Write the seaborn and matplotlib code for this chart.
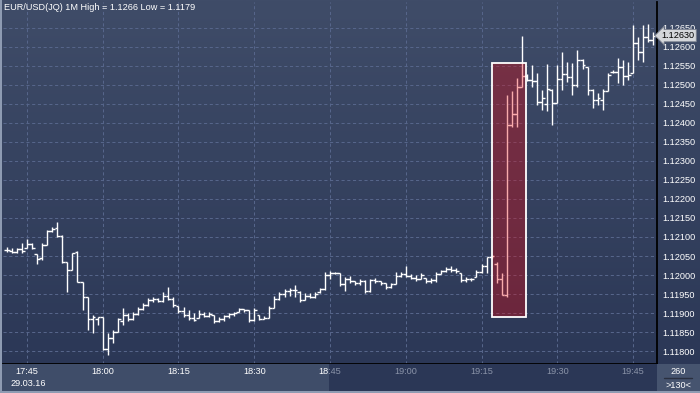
import numpy as np
import pandas as pd
import matplotlib
matplotlib.use("Agg")
import matplotlib.pyplot as plt
import seaborn as sns
from matplotlib.patches import Rectangle
from matplotlib.colors import LinearSegmentedColormap
from matplotlib.transforms import Bbox, blended_transform_factory

# ---------------- data (EUR/USD 1-minute bars) ----------------
start_time = "2016-03-29 17:41"
opens = [1.12066, 1.12063, 1.12060, 1.12068, 1.12071, 1.12082, 1.12054, 1.12045, 1.12079, 1.12115,
         1.12123, 1.12103, 1.12034, 1.12013, 1.12060, 1.11982, 1.11942, 1.11884, 1.11884, 1.11889,
         1.11805, 1.11834, 1.11850, 1.11880, 1.11895, 1.11884, 1.11897, 1.11910, 1.11921, 1.11934,
         1.11937, 1.11931, 1.11945, 1.11937, 1.11918, 1.11905, 1.11895, 1.11887, 1.11887, 1.11897,
         1.11892, 1.11895, 1.11879, 1.11884, 1.11892, 1.11897, 1.11903, 1.11910, 1.11908, 1.11882,
         1.11895, 1.11884, 1.11887, 1.11913, 1.11937, 1.11950, 1.11958, 1.11960, 1.11955, 1.11934,
         1.11945, 1.11942, 1.11955, 1.11963, 1.12000, 1.12005, 1.12005, 1.11976, 1.11989, 1.11984,
         1.11979, 1.11984, 1.11958, 1.11987, 1.11984, 1.11979, 1.11968, 1.11976, 1.11997, 1.12003,
         1.11997, 1.11992, 1.11989, 1.11992, 1.11984, 1.11987, 1.12003, 1.12010, 1.12016, 1.12013,
         1.12005, 1.11987, 1.11989, 1.11995, 1.12008, 1.12024, 1.12047, 1.12029, 1.11989, 1.11947,
         1.12394, 1.12423, 1.12494, 1.12523, 1.12513, 1.12510, 1.12455, 1.12450, 1.12486, 1.12452,
         1.12515, 1.12530, 1.12520, 1.12500, 1.12565, 1.12547, 1.12486, 1.12460, 1.12460, 1.12484,
         1.12534, 1.12534, 1.12547, 1.12523, 1.12531, 1.12610, 1.12586, 1.12626, 1.12618]
highs = [1.12073, 1.12071, 1.12072, 1.12084, 1.12095, 1.12084, 1.12055, 1.12084, 1.12118, 1.12126,
         1.12139, 1.12105, 1.12034, 1.12058, 1.12063, 1.11982, 1.11942, 1.11895, 1.11889, 1.11889,
         1.11847, 1.11855, 1.11887, 1.11913, 1.11900, 1.11903, 1.11916, 1.11926, 1.11939, 1.11942,
         1.11940, 1.11955, 1.11968, 1.11942, 1.11918, 1.11916, 1.11908, 1.11900, 1.11908, 1.11903,
         1.11903, 1.11895, 1.11889, 1.11895, 1.11900, 1.11903, 1.11913, 1.11910, 1.11908, 1.11913,
         1.11895, 1.11892, 1.11918, 1.11945, 1.11955, 1.11963, 1.11966, 1.11974, 1.11958, 1.11953,
         1.11953, 1.11955, 1.11966, 1.12008, 1.12010, 1.12008, 1.12005, 1.11995, 1.11997, 1.11984,
         1.11989, 1.11987, 1.11989, 1.11992, 1.11984, 1.11979, 1.11979, 1.12008, 1.12008, 1.12024,
         1.12003, 1.12000, 1.12005, 1.11992, 1.11992, 1.12008, 1.12013, 1.12021, 1.12024, 1.12018,
         1.12005, 1.11995, 1.11992, 1.12013, 1.12029, 1.12047, 1.12053, 1.12034, 1.12005, 1.12473,
         1.12484, 1.12518, 1.12628, 1.12530, 1.12552, 1.12531, 1.12486, 1.12555, 1.12489, 1.12552,
         1.12586, 1.12560, 1.12557, 1.12592, 1.12568, 1.12547, 1.12489, 1.12478, 1.12489, 1.12531,
         1.12539, 1.12571, 1.12565, 1.12560, 1.12657, 1.12626, 1.12657, 1.12660, 1.12639]
lows = [1.12060, 1.12058, 1.12058, 1.12058, 1.12071, 1.12068, 1.12029, 1.12039, 1.12079, 1.12113,
        1.12100, 1.12031, 1.11955, 1.12013, 1.11982, 1.11908, 1.11855, 1.11847, 1.11868, 1.11803,
        1.11790, 1.11821, 1.11850, 1.11868, 1.11879, 1.11882, 1.11895, 1.11908, 1.11918, 1.11929,
        1.11929, 1.11929, 1.11934, 1.11916, 1.11900, 1.11889, 1.11882, 1.11879, 1.11887, 1.11889,
        1.11889, 1.11874, 1.11876, 1.11879, 1.11887, 1.11892, 1.11903, 1.11903, 1.11876, 1.11879,
        1.11882, 1.11884, 1.11887, 1.11913, 1.11934, 1.11942, 1.11945, 1.11942, 1.11929, 1.11934,
        1.11939, 1.11939, 1.11953, 1.11960, 1.11989, 1.12003, 1.11971, 1.11958, 1.11979, 1.11974,
        1.11974, 1.11953, 1.11955, 1.11979, 1.11974, 1.11963, 1.11966, 1.11976, 1.11995, 1.11995,
        1.11989, 1.11984, 1.11989, 1.11979, 1.11979, 1.11982, 1.12003, 1.12008, 1.12008, 1.12005,
        1.11982, 1.11982, 1.11984, 1.11995, 1.12005, 1.12005, 1.12045, 1.11979, 1.11947, 1.11942,
        1.12389, 1.12389, 1.12494, 1.12510, 1.12494, 1.12447, 1.12434, 1.12431, 1.12394, 1.12452,
        1.12486, 1.12507, 1.12473, 1.12494, 1.12541, 1.12473, 1.12439, 1.12447, 1.12434, 1.12484,
        1.12531, 1.12505, 1.12500, 1.12513, 1.12531, 1.12565, 1.12560, 1.12613, 1.12605]
closes = [1.12066, 1.12060, 1.12068, 1.12062, 1.12082, 1.12072, 1.12042, 1.12079, 1.12115, 1.12120,
          1.12103, 1.12034, 1.12013, 1.12058, 1.11982, 1.11942, 1.11884, 1.11889, 1.11889, 1.11805,
          1.11834, 1.11850, 1.11884, 1.11895, 1.11884, 1.11897, 1.11910, 1.11921, 1.11934, 1.11937,
          1.11931, 1.11945, 1.11937, 1.11921, 1.11905, 1.11895, 1.11887, 1.11882, 1.11897, 1.11892,
          1.11897, 1.11879, 1.11884, 1.11892, 1.11897, 1.11900, 1.11910, 1.11908, 1.11882, 1.11908,
          1.11884, 1.11887, 1.11913, 1.11937, 1.11950, 1.11958, 1.11960, 1.11960, 1.11934, 1.11945,
          1.11942, 1.11950, 1.11963, 1.12000, 1.12005, 1.12005, 1.11976, 1.11989, 1.11984, 1.11979,
          1.11984, 1.11958, 1.11987, 1.11984, 1.11979, 1.11968, 1.11976, 1.11997, 1.12003, 1.11997,
          1.11992, 1.11989, 1.12000, 1.11984, 1.11987, 1.12003, 1.12010, 1.12016, 1.12013, 1.12010,
          1.11987, 1.11989, 1.11989, 1.12008, 1.12024, 1.12047, 1.12050, 1.11989, 1.11947, 1.12394,
          1.12423, 1.12494, 1.12523, 1.12513, 1.12510, 1.12455, 1.12465, 1.12489, 1.12452, 1.12515,
          1.12530, 1.12520, 1.12500, 1.12565, 1.12552, 1.12486, 1.12460, 1.12465, 1.12484, 1.12526,
          1.12534, 1.12547, 1.12523, 1.12526, 1.12610, 1.12586, 1.12626, 1.12618, 1.12630]

time_labels = ["17:45", "18:00", "18:15", "18:30", "18:45", "19:00", "19:15", "19:30", "19:45"]
date_label = "29.03.16"
price_ticks = [1.11800, 1.11850, 1.11900, 1.11950, 1.12000, 1.12050, 1.12100, 1.12150, 1.12200,
               1.12250, 1.12300, 1.12350, 1.12400, 1.12450, 1.12500, 1.12550, 1.12600, 1.12650]
title = "EUR/USD(JQ) 1M High = 1.1266 Low = 1.1179"
last_price = 1.12630
highlight_times = ["2016-03-29 19:17", "2016-03-29 19:24"]
highlight_prices = [1.11890, 1.12558]
counter_top, counter_bottom = "260", ">130<"

# ---------------- style ----------------
sns.set_theme(style="dark")
plt.rcParams['font.family'] = ['Liberation Sans', 'DejaVu Sans']
FS = 6.6

W, H = 700, 393
fig = plt.figure(figsize=(W / 100, H / 100), dpi=100)


def fx(px):
    return px / W


def fy(py):
    return 1 - py / H


# gradient background over the whole figure
bg = fig.add_axes([0, 0, 1, 1])
bg.set_axis_off()
cmap = LinearSegmentedColormap.from_list("bgrad", ["#3f4c68", "#2a3655"])
bg.imshow(np.linspace(0, 1, 256)[:, None], aspect="auto", cmap=cmap, extent=[0, 1, 0, 1])
bg.set_xlim(0, 1)
bg.set_ylim(0, 1)

# bottom strip (time axis)
fig.patches.append(Rectangle((0, fy(391)), fx(329), fy(364) - fy(391), transform=fig.transFigure,
                             facecolor="#3f4d69", edgecolor="none", zorder=1))
fig.patches.append(Rectangle((fx(329), fy(391)), fx(657) - fx(329), fy(364) - fy(391),
                             transform=fig.transFigure, facecolor="#2b3756", edgecolor="none", zorder=1))
fig.patches.append(Rectangle((fx(657), fy(391)), fx(700) - fx(657), fy(364) - fy(391),
                             transform=fig.transFigure, facecolor="#46546f", edgecolor="none", zorder=1))
# light frame lines
fig.patches.append(Rectangle((0, 0), 1, fy(391), transform=fig.transFigure,
                             facecolor="#8e9bb2", edgecolor="none", zorder=2))
fig.patches.append(Rectangle((0, 0), fx(2), 1, transform=fig.transFigure,
                             facecolor="#8e9bb2", edgecolor="none", zorder=2))

# main price axes
ax = fig.add_axes([fx(3), fy(364), fx(657) - fx(3), fy(2) - fy(364)])
ax.patch.set_alpha(0)

times = pd.date_range(start_time, periods=len(closes), freq="min")
t0 = pd.Timestamp("2016-03-29 17:45")
xm = ((times - t0).total_seconds() / 60).to_numpy()

df = pd.DataFrame({"x": xm, "open": opens, "high": highs, "low": lows, "close": closes})

tick = 0.55
ax.vlines(df["x"], df["low"], df["high"], color="white", lw=1.0, zorder=3)
ax.hlines(df["open"], df["x"] - tick, df["x"], color="white", lw=1.0, zorder=3)
ax.hlines(df["close"], df["x"], df["x"] + tick, color="white", lw=1.0, zorder=3)

ax.set_xlim(-4.75, 124.75)
ax.set_ylim(1.117658, 1.127184)

grid_x = [((pd.Timestamp("2016-03-29 " + t) - t0).total_seconds() / 60) for t in time_labels]
ax.set_xticks(grid_x)
ax.set_xticklabels([])
ax.set_yticks(price_ticks)
ax.set_yticklabels([f"{p:.5f}" for p in price_ticks])
ax.yaxis.tick_right()
ax.tick_params(axis="y", length=0, pad=3.5, labelsize=FS, labelcolor="white")
ax.tick_params(axis="x", length=0)
ax.grid(True, color="#56658a", lw=0.75, ls=(0, (3, 2.5)))
for lab in ax.get_yticklabels():
    lab.set_clip_on(False)

for side in ["top", "left"]:
    ax.spines[side].set_visible(False)
ax.spines["right"].set_color("black")
ax.spines["right"].set_linewidth(1.3)
ax.spines["bottom"].set_color("black")
ax.spines["bottom"].set_linewidth(1.3)

# highlight box
hx0 = (pd.Timestamp(highlight_times[0]) - t0).total_seconds() / 60
hx1 = (pd.Timestamp(highlight_times[1]) - t0).total_seconds() / 60
ax.add_patch(Rectangle((hx0, highlight_prices[0]), hx1 - hx0 - 0.1,
                       highlight_prices[1] - highlight_prices[0],
                       facecolor=(0.93, 0.0, 0.02, 0.33), edgecolor="white", lw=1.3, zorder=4))

# last price marker
ax.text(1.0 + 4.5 / 654, last_price, f"{last_price:.5f}",
        transform=blended_transform_factory(ax.transAxes, ax.transData),
        ha="left", va="center", fontsize=FS, color="black", clip_on=False, zorder=6,
        bbox=dict(boxstyle="larrow,pad=0.18", fc="#d4d6da", ec="#7c8290", lw=0.6))

# title
fig.text(fx(4), fy(8), title, ha="left", va="center", fontsize=FS, color="white")

# time labels (dimmed outside the highlighted scroll window)
fig.canvas.draw()
split_px = 329
for t, gx in zip(time_labels, grid_x):
    px = ax.transData.transform((gx, 0))[0]
    for color, box in [("white", Bbox.from_extents(0, 0, split_px, H)),
                       ("#8a93a8", Bbox.from_extents(split_px, 0, 657, H))]:
        txt = fig.text(px / W, fy(372), t, ha="center", va="center", fontsize=FS, color=color)
        txt.set_clip_box(box)
        txt.set_clip_on(True)
fig.text(fx(28), fy(383), date_label, ha="center", va="center", fontsize=FS, color="white")

# counter box
fig.text(fx(678), fy(372), counter_top, ha="center", va="center", fontsize=FS, color="white")
fig.lines.append(plt.Line2D([fx(664), fx(692)], [fy(378), fy(378)], transform=fig.transFigure,
                            color="#2a3040", lw=1.0))
fig.text(fx(678), fy(385), counter_bottom, ha="center", va="center", fontsize=FS, color="white")

fig.savefig("out.png", dpi=100)
